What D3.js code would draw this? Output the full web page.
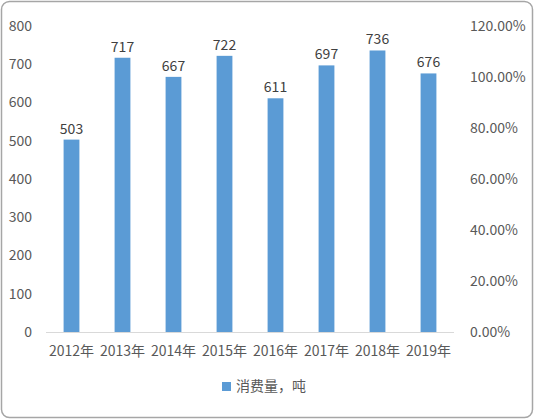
<!DOCTYPE html>
<html><head><meta charset="utf-8">
<script src="https://cdn.jsdelivr.net/npm/d3@7"></script>
<style>body{margin:0;background:#fff}svg{display:block}</style>
</head><body><svg id="c" width="534" height="419"></svg>
<script>
const categories=["2012年","2013年","2014年","2015年","2016年","2017年","2018年","2019年"];
const values=[503,717,667,722,611,697,736,676];
const leftTicks=[0,100,200,300,400,500,600,700,800];
const rightTicks=[0,0.2,0.4,0.6,0.8,1.0,1.2];
const seriesName="消费量，吨";
const svg=d3.select("#c");
const font="'Noto Sans CJK SC','DejaVu Sans',sans-serif";
svg.append("rect").attr("x",1.5).attr("y",1.5).attr("width",531).attr("height",416).attr("rx",8)
 .attr("fill","#fff").attr("stroke","#a6a6a6").attr("stroke-width",1.5);
const x=d3.scaleBand().domain(categories).range([46,454]).paddingInner(0.69).paddingOuter(0.345);
const y=d3.scaleLinear().domain([0,800]).range([332,26]);
const y2=d3.scaleLinear().domain([0,1.2]).range([332,26]);
const col="#5b9bd5";
svg.selectAll("rect.b").data(values).join("rect").attr("class","b")
 .attr("x",(d,i)=>x(categories[i])).attr("width",x.bandwidth())
 .attr("y",d=>y(d)).attr("height",d=>y(0)-y(d)).attr("fill",col);
svg.selectAll("text.v").data(values).join("text").attr("class","v")
 .attr("x",(d,i)=>x(categories[i])+x.bandwidth()/2).attr("y",d=>y(d)-6)
 .attr("text-anchor","middle").attr("font-family",font).attr("font-size",14).attr("fill","#404040").text(d=>d);
svg.append("line").attr("x1",46).attr("x2",454).attr("y1",332.5).attr("y2",332.5).attr("stroke","#d9d9d9");
const la=svg.append("g").attr("transform","translate(40,0)").call(d3.axisLeft(y).tickValues(leftTicks).tickSize(0).tickPadding(8));
const ra=svg.append("g").attr("transform","translate(462,0)").call(d3.axisRight(y2).tickValues(rightTicks).tickSize(0).tickPadding(8).tickFormat(d=>(d*100).toFixed(2)+"%"));
const xa=svg.append("g").attr("transform","translate(0,332)").call(d3.axisBottom(x).tickSize(0).tickPadding(14));
[la,ra,xa].forEach(g=>{g.select(".domain").remove();g.selectAll("text").attr("font-family",font).attr("font-size",14).attr("fill","#595959");});
const lg=svg.append("g");
lg.append("rect").attr("x",222).attr("y",382).attr("width",9).attr("height",9).attr("fill",col);
lg.append("text").attr("x",236).attr("y",391).attr("font-family",font).attr("font-size",14).attr("fill","#595959").text(seriesName);
</script></body></html>
